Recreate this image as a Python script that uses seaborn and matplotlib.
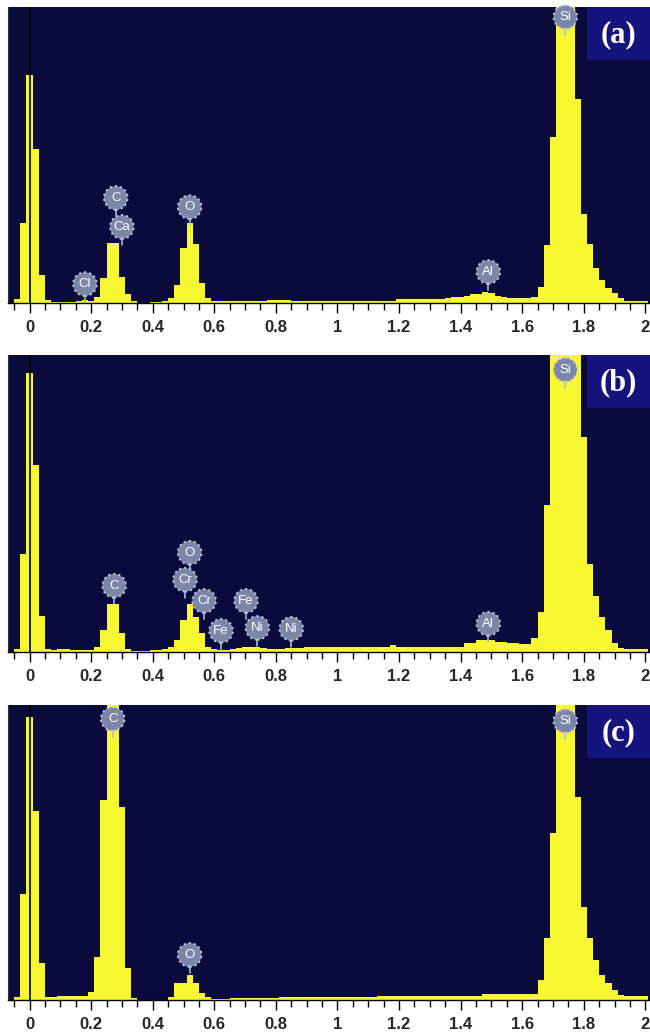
import numpy as np
import pandas as pd
import matplotlib
matplotlib.use('Agg')
import matplotlib.pyplot as plt
from matplotlib.patches import Rectangle
from matplotlib.ticker import MultipleLocator, FuncFormatter
import seaborn as sns

# energy channels (keV), 0.02 keV wide, from -0.06 to 2.00
energy = np.round(np.arange(-0.06, 2.001, 0.02), 2)

# counts, as % of panel height (values > 100 are clipped peaks)
counts_a = [0, 1.4, 27, 77, 52, 9.5, 1.0, 0.5, 0.5, 0.5,
            0.5, 0.6, 0.9, 0.6, 2.1, 8.4, 20.4, 20.4, 8.9, 3.0,
            0.8, 0, 0, 0.4, 0.5, 0.6, 1.6, 6.0, 18.6, 27,
            20, 6.7, 1.6, 0.6, 0.6, 0.6, 0.6, 0.6, 0.6, 0.6,
            0.6, 0.6, 0.9, 0.9, 1.0, 0.9, 0.7, 0.6, 0.6, 0.6,
            0.6, 0.6, 0.7, 0.6, 0.6, 0.6, 0.6, 0.6, 0.6, 0.6,
            0.6, 0.6, 0.6, 1.5, 1.5, 1.5, 1.5, 1.5, 1.5, 1.5,
            1.5, 1.8, 2.0, 2.0, 2.5, 3.0, 3.2, 3.7, 3.5, 2.5,
            2.2, 1.7, 1.6, 1.6, 1.8, 2.1, 5.4, 19.6, 56, 140,
            180, 140, 69, 30, 20, 12, 7.8, 5.0, 3.4, 1.7,
            0.7, 0.7, 0.7, 0.7]

counts_b = [0, 1.0, 33, 94, 63, 12, 1.0, 0.5, 1.0, 1.0,
            0.5, 0.5, 0.5, 0.7, 1.8, 7.4, 16, 16, 6.4, 1.0,
            0.3, 0.3, 0.3, 0.5, 0.8, 1.0, 1.5, 4.0, 10.8, 16,
            11.8, 6.4, 1.7, 1.0, 0.8, 0.8, 1.0, 1.2, 1.5, 1.7,
            1.7, 1.2, 1.0, 1.0, 1.0, 1.2, 1.2, 1.2, 1.5, 1.5,
            1.5, 1.5, 1.5, 1.5, 1.5, 1.5, 1.5, 1.5, 1.5, 1.5,
            1.5, 1.5, 2.2, 1.7, 1.7, 1.7, 1.7, 1.7, 1.7, 1.7,
            1.7, 1.7, 1.7, 1.7, 2.9, 2.9, 3.9, 3.9, 3.9, 3.4,
            3.4, 3.0, 3.0, 2.6, 2.6, 4.6, 13.4, 49.6, 130, 170,
            190, 170, 130, 72.5, 29.6, 19, 11.8, 7.3, 2.9, 1.3,
            1.0, 1.0, 1.0, 1.0]

counts_c = [0, 1.0, 36, 96, 64, 12.5, 1.0, 1.2, 1.5, 1.5,
            1.5, 1.5, 1.5, 2.7, 14.6, 67.8, 150, 150, 65.4, 10.8,
            0.7, 0, 0, 0, 0, 0, 1.0, 5.7, 5.7, 8.5,
            5.7, 2.4, 1.0, 0.2, 0.2, 0.2, 0.6, 0.6, 0.6, 0.6,
            0.6, 0.6, 0.6, 0.6, 0.9, 0.9, 0.9, 0.9, 0.9, 0.9,
            0.9, 0.9, 0.9, 0.9, 0.9, 0.9, 0.9, 0.9, 0.9, 0.9,
            1.5, 1.5, 1.5, 1.5, 1.5, 1.5, 1.5, 1.5, 1.5, 1.5,
            1.5, 1.5, 1.5, 1.5, 1.5, 1.5, 1.5, 2.0, 2.0, 2.0,
            2.0, 2.0, 2.0, 2.2, 2.2, 2.2, 6.8, 21, 56.6, 150,
            190, 150, 69, 31.5, 21, 13.6, 8.5, 5.7, 3.4, 1.7,
            1.4, 1.4, 1.4, 1.4]

# element markers: name, energy (keV), height of marker centre
labels_a = ['Cl', 'C', 'Ca', 'O', 'Al', 'Si']
lab_x_a = [0.18, 0.28, 0.30, 0.52, 1.49, 1.74]
lab_y_a = [6.4, 35.5, 25.7, 32.4, 10.5, 96.6]

labels_b = ['C', 'O', 'Cr', 'Cr', 'Fe', 'Fe', 'Ni', 'Ni', 'Al', 'Si']
lab_x_b = [0.275, 0.52, 0.505, 0.567, 0.622, 0.703, 0.74, 0.85, 1.49, 1.74]
lab_y_b = [22.3, 33.4, 24.3, 17.2, 7.1, 17.2, 8.1, 7.8, 9.5, 95]

labels_c = ['C', 'O', 'Si']
lab_x_c = [0.27, 0.52, 1.74]
lab_y_c = [95.3, 15.3, 94.6]

panel_names = ['(a)', '(b)', '(c)']

sns.set_style('white')
plt.rcParams['font.family'] = ['Liberation Sans', 'DejaVu Sans']

bg = '#0b0a3c'
box_col = '#16137c'
yellow = '#f8f832'

fig = plt.figure(figsize=(6.5, 10.36), dpi=100)
fig.patch.set_facecolor('white')

# axes rectangles [left, bottom, width, height] in figure fraction
rects = [[0.0123, 0.7075, 0.9877, 0.2857],
         [0.0123, 0.3707, 0.9877, 0.2867],
         [0.0123, 0.0347, 0.9877, 0.2847]]

panels = [(counts_a, labels_a, lab_x_a, lab_y_a),
          (counts_b, labels_b, lab_x_b, lab_y_b),
          (counts_c, labels_c, lab_x_c, lab_y_c)]

for rect, (counts, labs, lx, ly), name in zip(rects, panels, panel_names):
    ax = fig.add_axes(rect)
    ax.set_facecolor(bg)
    df = pd.DataFrame({'energy': energy, 'count': counts})
    sns.histplot(data=df, x='energy', weights='count', binwidth=0.02,
                 binrange=(-0.07, 2.01), element='step', fill=True,
                 color=yellow, alpha=1, linewidth=0, ax=ax)
    ax.axvline(0, color='black', lw=1.2, zorder=3)
    ax.set_xlim(-0.07, 2.015)
    ax.set_ylim(0, 100)
    ax.set_ylabel('')
    ax.set_xlabel('')
    ax.set_yticks([])

    # element markers
    for name_el, x, y in zip(labs, lx, ly):
        ax.plot([x, x], [y, y - 6.2], color='#a9b8e2', lw=1.2, zorder=4,
                clip_on=False)
        ax.scatter([x], [y], s=290, color='#7d86a8', edgecolor='#c3cae0',
                   linewidth=1.4, linestyle=':', zorder=5, clip_on=False)
        ax.text(x, y, name_el, color='white', fontsize=9.5, ha='center',
                va='center', zorder=6, clip_on=False)

    # panel letter box
    ax.add_patch(Rectangle((0.902, 0.82), 0.098, 0.18, transform=ax.transAxes,
                           facecolor=box_col, edgecolor='none', zorder=6))
    ax.text(0.951, 0.905, name, transform=ax.transAxes, color='white',
            fontsize=22, fontweight='bold', family='Liberation Serif',
            ha='center', va='center', zorder=7)

    ax.xaxis.set_major_locator(MultipleLocator(0.2))
    ax.xaxis.set_minor_locator(MultipleLocator(0.05))
    ax.xaxis.set_major_formatter(FuncFormatter(lambda v, p: '%g' % round(v, 2)))
    ax.tick_params(axis='x', which='major', direction='out', length=7,
                   width=1, color='black', pad=5, labelsize=12, bottom=True)
    ax.tick_params(axis='x', which='minor', direction='out', length=5,
                   width=1, color='black', bottom=True)
    for lbl in ax.get_xticklabels():
        lbl.set_fontweight('bold')
    for side in ['top', 'right']:
        ax.spines[side].set_visible(False)
    ax.spines['left'].set_color('#30304a')
    ax.spines['bottom'].set_color('black')
    ax.spines['bottom'].set_linewidth(1)

fig.savefig('out.png', dpi=100, facecolor='white')
